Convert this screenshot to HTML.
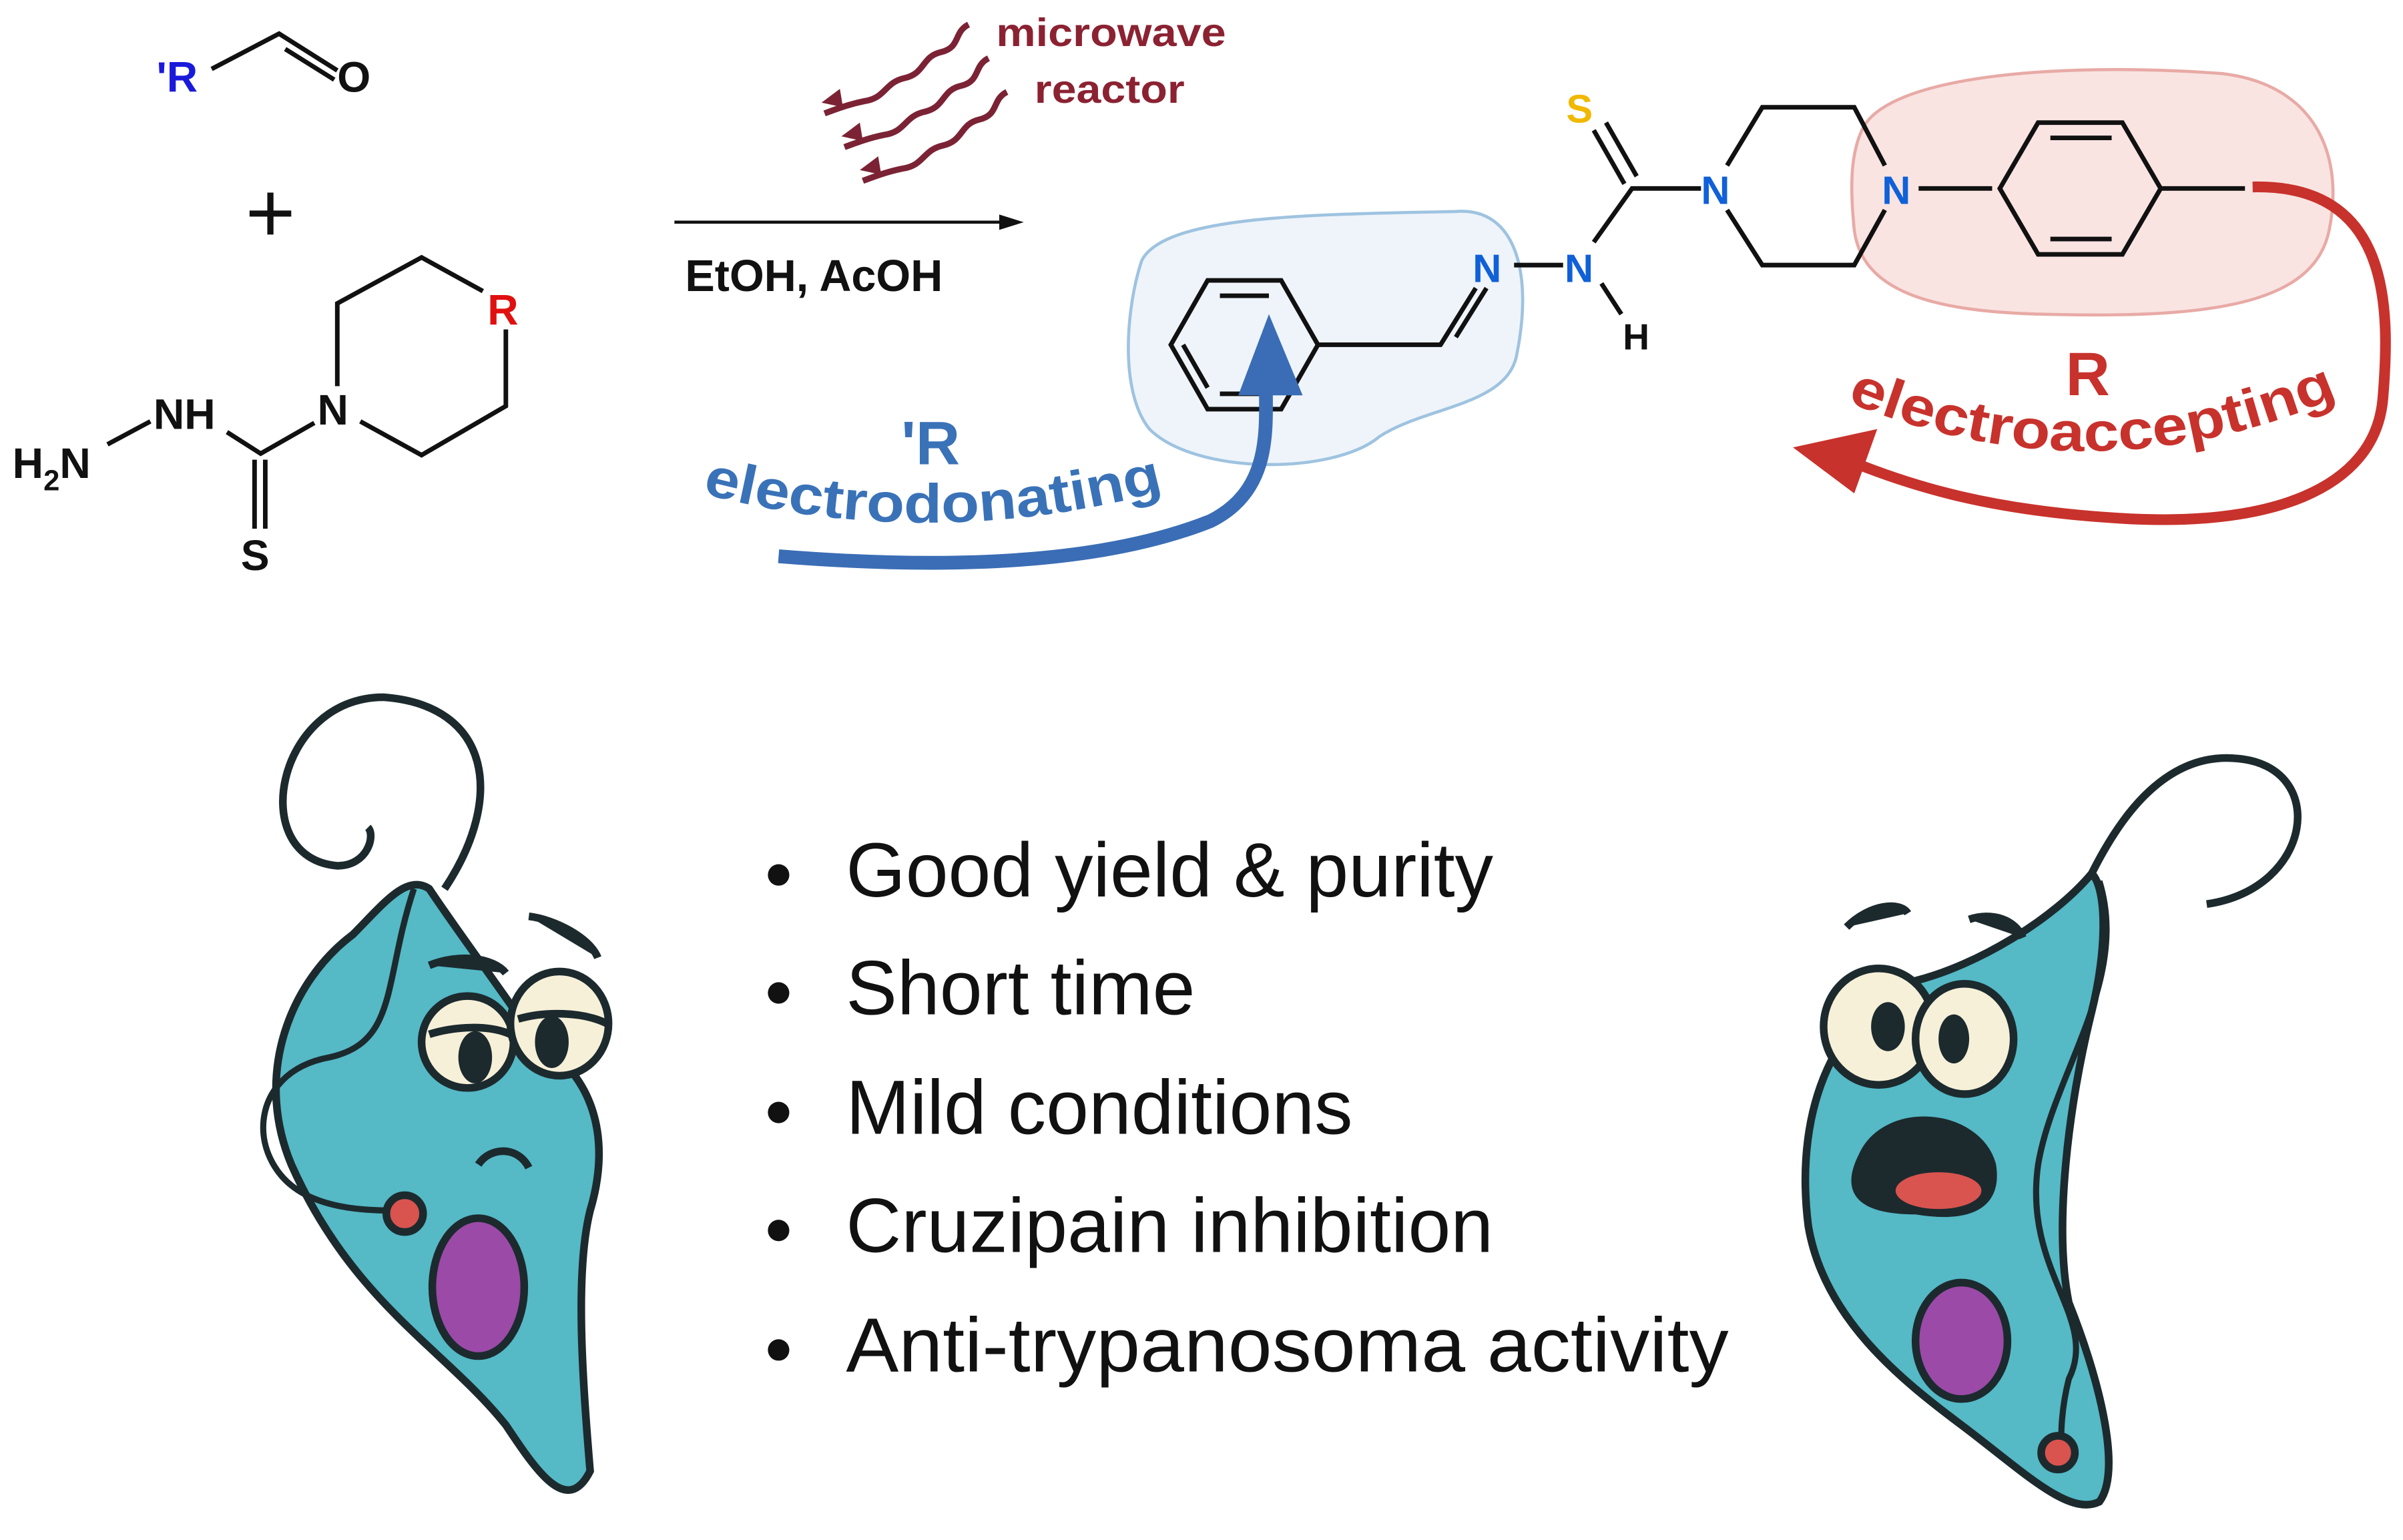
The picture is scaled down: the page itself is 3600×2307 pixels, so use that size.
<!DOCTYPE html>
<html><head><meta charset="utf-8"><style>
html,body{margin:0;padding:0;background:#fff;}
svg{display:block;}
text{font-family:"Liberation Sans",sans-serif;}
</style></head><body>
<svg width="3600" height="2307" viewBox="0 0 1568 1005" xmlns="http://www.w3.org/2000/svg">
<defs>
<path id="pb" d="M458,322 Q610,362 768,318"/>
<path id="pr" d="M1205,262 Q1370,330 1535,255"/>
</defs>
<rect width="1568" height="1005" fill="#fff"/>
<!-- aldehyde -->
<text x="102" y="60" font-size="28" font-weight="bold" fill="#1a1adb">'R</text>
<polyline points="138,45 182,22 220,46" fill="none" stroke="#111" stroke-width="3"/>
<line x1="186" y1="32" x2="218" y2="52" stroke="#111" stroke-width="3"/>
<text x="220" y="60" font-size="28" font-weight="bold" fill="#111">O</text>
<text x="160" y="158" font-size="56" fill="#111">+</text>
<!-- reagent -->
<g stroke="#111" stroke-width="3" fill="none">
<polyline points="220,252 220,198 275,168 315,190"/>
<polyline points="330,215 330,265 275,297 235,275"/>
<polyline points="70,290 98,275"/>
<polyline points="148,282 170,296 205,276"/>
<line x1="166" y1="300" x2="166" y2="345"/><line x1="173" y1="300" x2="173" y2="345"/>
</g>
<text x="318" y="212" font-size="28" font-weight="bold" fill="#e01010">R</text>
<text x="207" y="277" font-size="28" font-weight="bold" fill="#111">N</text>
<text x="100" y="280" font-size="28" font-weight="bold" fill="#111">NH</text>
<text x="8" y="312" font-size="28" font-weight="bold" fill="#111">H<tspan font-size="19" dy="8">2</tspan><tspan dy="-8">N</tspan></text>
<text x="157" y="372" font-size="28" font-weight="bold" fill="#111">S</text>
<!-- arrow -->
<line x1="440" y1="145" x2="660" y2="145" stroke="#111" stroke-width="2"/>
<polygon points="668,145 652,140 652,150" fill="#111"/>
<text x="447" y="190" font-size="29" font-weight="bold" fill="#111">EtOH, AcOH</text>
<!-- microwave -->
<g stroke="#7b2335" stroke-width="4" fill="none">
<path d="M632,16 c-10,5 -5,15 -18,18 c-13,3 -10,14 -24,17 c-13,3 -12,13 -26,15 c-10,2 -18,5 -26,8"/>
<path d="M645,38 c-10,5 -5,15 -18,18 c-13,3 -10,14 -24,17 c-13,3 -12,13 -26,15 c-10,2 -18,5 -26,8"/>
<path d="M657,60 c-10,5 -5,15 -18,18 c-13,3 -10,14 -24,17 c-13,3 -12,13 -26,15 c-10,2 -18,5 -26,8"/>
</g>
<polygon points="536,67 548,58 550,70" fill="#7b2335"/>
<polygon points="549,89 561,80 563,92" fill="#7b2335"/>
<polygon points="561,111 573,102 575,114" fill="#7b2335"/>
<text x="650" y="30" font-size="26" font-weight="bold" fill="#8b2232" textLength="150" lengthAdjust="spacingAndGlyphs">microwave</text>
<text x="675" y="67" font-size="26" font-weight="bold" fill="#8b2232" textLength="98" lengthAdjust="spacingAndGlyphs">reactor</text>
<!-- blobs -->
<path d="M745,170 C760,140 860,140 950,138 C990,135 1000,180 990,230 C985,265 930,265 900,285 C870,310 780,310 750,280 C730,255 735,200 745,170Z" fill="#eef4fa" stroke="#9ec3e0" stroke-width="2"/>
<path d="M1215,85 C1230,50 1340,40 1450,48 C1510,55 1530,100 1520,150 C1510,200 1440,208 1330,205 C1260,203 1215,190 1210,150 C1207,120 1208,100 1215,85Z" fill="#f9e4e2" stroke="#e8aaa6" stroke-width="2"/>
<!-- product -->
<g stroke="#111" stroke-width="3" fill="none">
<polygon points="788,183 836,183 860,225 836,267 788,267 764,225"/>
<line x1="796" y1="193" x2="828" y2="193"/><line x1="796" y1="257" x2="828" y2="257"/><line x1="772" y1="225" x2="788" y2="253"/>
<polyline points="860,225 940,225 963,188"/>
<line x1="950" y1="220" x2="970" y2="188"/>
<line x1="988" y1="173" x2="1020" y2="173"/>
<polyline points="1040,158 1065,123 1110,123"/>
<line x1="1045" y1="185" x2="1058" y2="205"/>
<line x1="1060" y1="120" x2="1040" y2="85"/><line x1="1068" y1="115" x2="1048" y2="80"/>
<polyline points="1127,108 1150,70 1210,70 1230,108"/>
<polyline points="1127,137 1150,173 1210,173 1230,137"/>
<polyline points="1252,123 1300,123"/>
<polygon points="1305,123 1330,80 1385,80 1410,123 1385,166 1330,166"/>
<line x1="1338" y1="90" x2="1378" y2="90"/><line x1="1338" y1="156" x2="1378" y2="156"/>
<line x1="1410" y1="123" x2="1465" y2="123"/>
</g>
<text x="961" y="184" font-size="26" font-weight="bold" fill="#1060d8">N</text>
<text x="1021" y="184" font-size="26" font-weight="bold" fill="#1060d8">N</text>
<text x="1059" y="228" font-size="24" font-weight="bold" fill="#111">H</text>
<text x="1022" y="80" font-size="26" font-weight="bold" fill="#f0b800">S</text>
<text x="1110" y="133" font-size="26" font-weight="bold" fill="#1060d8">N</text>
<text x="1228" y="133" font-size="26" font-weight="bold" fill="#1060d8">N</text>
<!-- blue arrow -->
<path d="M508,363 C620,372 720,368 790,340 C830,320 826,280 826,250" fill="none" stroke="#3a6db5" stroke-width="9"/>
<polygon points="808,258 828,205 850,258" fill="#3a6db5"/>
<text x="588" y="303" font-size="40" font-weight="bold" fill="#3a72b8">'R</text>
<text font-size="36" font-weight="bold" fill="#3a72b8"><textPath href="#pb" textLength="305" lengthAdjust="spacingAndGlyphs">electrodonating</textPath></text>
<!-- red arrow -->
<path d="M1470,122 C1560,120 1560,200 1555,260 C1550,320 1480,345 1380,338 C1300,333 1250,318 1210,302" fill="none" stroke="#c8322c" stroke-width="7"/>
<polygon points="1170,292 1225,280 1210,322" fill="#c8322c"/>
<text x="1348" y="258" font-size="40" font-weight="bold" fill="#c8322c">R</text>
<text font-size="36" font-weight="bold" fill="#c8322c"><textPath href="#pr" textLength="330" lengthAdjust="spacingAndGlyphs">electroaccepting</textPath></text>
<!-- bullets -->
<g font-size="50" fill="#111">
<circle cx="508" cy="571" r="7"/><text x="552" y="585">Good yield &amp; purity</text>
<circle cx="508" cy="648" r="7"/><text x="552" y="662">Short time</text>
<circle cx="508" cy="726" r="7"/><text x="552" y="740">Mild conditions</text>
<circle cx="508" cy="803" r="7"/><text x="552" y="817">Cruzipain inhibition</text>
<circle cx="508" cy="881" r="7"/><text x="552" y="895" textLength="576" lengthAdjust="spacingAndGlyphs">Anti-trypanosoma activity</text>
</g>
<!-- left creature -->
<g stroke="#1c2a2e" stroke-width="5">
<path d="M280,580 C300,610 330,650 350,680 C385,700 400,740 385,790 C375,830 380,900 385,960 C370,990 350,960 330,930 C290,880 230,850 190,760 C165,700 190,640 230,610 C250,590 265,570 280,580Z" fill="#55b9c6"/>
<path d="M290,580 C330,520 320,460 250,455 C180,455 160,560 220,565 C240,565 245,545 240,540" fill="none"/>
<path d="M270,580 C250,640 260,680 215,690 C160,700 160,760 200,780 C220,790 245,790 260,790" fill="none" stroke-width="4"/>
<ellipse cx="305" cy="680" rx="30" ry="30" fill="#f6f0d8"/><ellipse cx="365" cy="668" rx="32" ry="34" fill="#f6f0d8"/>
<path d="M280,675 C295,670 320,668 335,676" fill="none"/><path d="M338,665 C355,660 380,660 396,668" fill="none"/>
<path d="M312,760 C320,748 338,748 345,762" fill="none"/>
<path d="M280,630 C300,622 322,625 330,635" fill="#1c2a2e"/><path d="M345,598 C362,600 385,612 390,625" fill="#1c2a2e"/>
<ellipse cx="312" cy="840" rx="30" ry="45" fill="#9b4aa8"/>
<circle cx="264" cy="792" r="12" fill="#d9534f"/>
</g>
<ellipse cx="310" cy="690" rx="11" ry="17" fill="#1c2a2e"/><ellipse cx="360" cy="680" rx="11" ry="17" fill="#1c2a2e"/>
<!-- right creature -->
<g stroke="#1c2a2e" stroke-width="5">
<path d="M1365,570 C1340,600 1290,630 1250,640 C1200,660 1170,720 1180,800 C1190,860 1240,900 1280,930 C1320,960 1350,990 1370,980 C1385,960 1370,900 1350,850 C1340,800 1350,720 1365,660 C1375,620 1375,580 1365,570Z" fill="#55b9c6"/>
<path d="M1365,570 C1380,540 1410,490 1460,495 C1520,500 1510,580 1440,590" fill="none"/>
<path d="M1370,575 C1390,640 1340,700 1330,760 C1320,830 1370,860 1350,900 C1345,920 1345,935 1345,945" fill="none" stroke-width="4"/>
<ellipse cx="1226" cy="670" rx="36" ry="38" fill="#f6f0d8"/><ellipse cx="1282" cy="678" rx="32" ry="36" fill="#f6f0d8"/>
<path d="M1205,605 C1220,590 1240,588 1245,596" fill="#1c2a2e"/><path d="M1285,600 C1300,595 1315,600 1320,612" fill="#1c2a2e"/>
<path d="M1215,755 C1230,720 1290,725 1300,760 C1305,790 1280,795 1250,790 C1210,790 1205,775 1215,755Z" fill="#1c2a2e"/>
<ellipse cx="1280" cy="875" rx="30" ry="38" fill="#9b4aa8"/>
<circle cx="1343" cy="948" r="11" fill="#d9534f"/>
</g>
<ellipse cx="1265" cy="777" rx="28" ry="12" fill="#d9534f"/>
<ellipse cx="1232" cy="670" rx="11" ry="16" fill="#1c2a2e"/><ellipse cx="1275" cy="678" rx="10" ry="16" fill="#1c2a2e"/>
</svg>
</body></html>
